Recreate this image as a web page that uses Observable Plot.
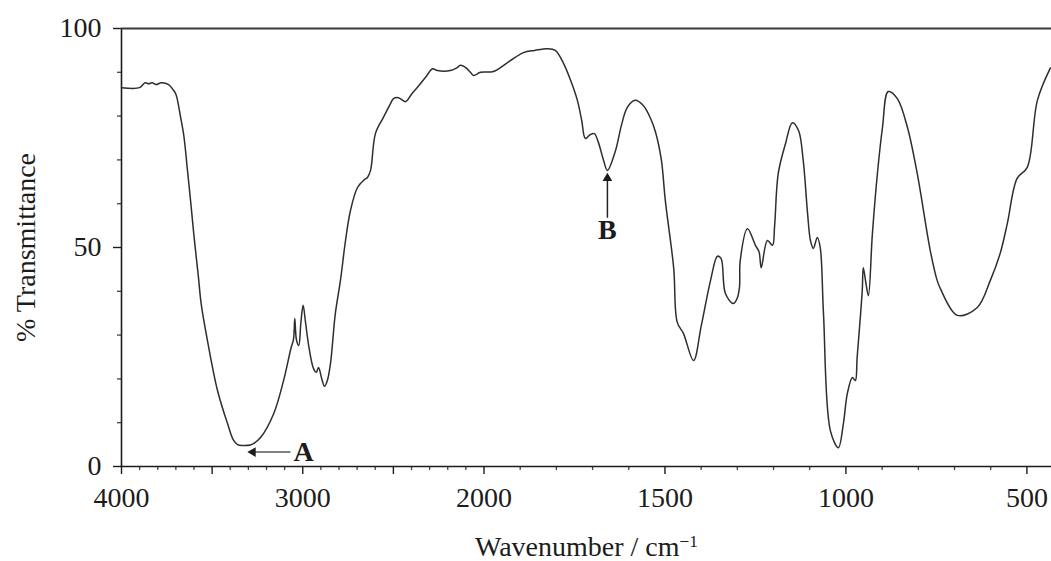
<!DOCTYPE html>
<html>
<head>
<meta charset="utf-8">
<script src="https://cdn.jsdelivr.net/npm/d3@7"></script>
<script src="https://cdn.jsdelivr.net/npm/@observablehq/plot@0.6"></script>
<style>
  html, body { margin: 0; padding: 0; background: #fff; }
  svg text { font-family: "Liberation Serif", "Times New Roman", serif; }
</style>
</head>
<body>
<div id="chart"></div>
<script>
// IR spectrum: wavenumber (cm^-1) and % transmittance
const wavenumber = [
  4000, 3900, 3870, 3850, 3830, 3810, 3780, 3740, 3715, 3702, 3693, 3675, 3656, 3637, 3619, 3601,
  3575, 3560, 3526, 3470, 3415, 3382, 3360, 3330, 3290, 3272, 3233, 3161, 3106, 3065, 3051, 3044,
  3035, 3022, 3010, 2998, 2985, 2965, 2941, 2925, 2913, 2895, 2880, 2865, 2847, 2820, 2792, 2764,
  2737, 2698, 2660, 2643, 2626, 2599, 2555, 2520, 2499, 2472, 2433, 2400, 2367, 2320, 2284, 2257,
  2185, 2150, 2130, 2102, 2075, 2058, 2019, 1974, 1930, 1891, 1860, 1825, 1803, 1780, 1760, 1742,
  1730, 1720, 1706, 1695, 1684, 1670, 1659, 1637, 1620, 1604, 1582, 1560, 1540, 1526, 1510, 1499,
  1476, 1466, 1449, 1421, 1400, 1374, 1355, 1345, 1333, 1311, 1300, 1294, 1292, 1272, 1250, 1240,
  1234, 1217, 1203, 1197, 1187, 1167, 1148, 1131, 1118, 1106, 1098, 1090, 1079, 1071, 1062, 1043,
  1021, 1007, 996, 982, 974, 969, 955, 952, 945, 938, 927, 913, 899, 883, 858, 830,
  803, 767, 748, 739, 692, 637, 601, 574, 554, 527, 499, 471, 435
];
const transmittance = [
  86.5, 86.5, 87.6, 87.4, 87.6, 87.2, 87.6, 87.2, 86.0, 85.2, 84.0, 80.0, 75.5, 68.0, 60.7, 53.0,
  43.0, 37.0, 28.8, 17.3, 9.8, 6.0, 5.0, 4.8, 4.9, 5.2, 6.6, 12.0, 19.6, 27.0, 29.0, 33.8,
  29.0, 27.6, 33.0, 36.8, 33.0, 27.0, 22.4, 21.5, 22.6, 20.0, 18.3, 19.5, 23.5, 35.0, 42.5, 51.6,
  58.4, 63.7, 65.5, 66.0, 67.6, 76.0, 79.7, 82.5, 84.0, 84.2, 83.3, 85.0, 86.6, 89.0, 90.8, 90.4,
  90.4, 91.0, 91.6, 91.1, 90.0, 89.3, 90.0, 90.2, 92.5, 94.5, 95.0, 95.4, 95.0, 92.0, 88.0, 83.6,
  79.0, 74.9, 75.8, 76.0, 74.0, 70.0, 67.6, 72.0, 78.0, 82.0, 83.6, 82.4, 79.5, 76.3, 70.0, 60.7,
  45.4, 32.9, 30.4, 24.2, 32.0, 42.5, 48.0, 47.5, 39.5, 37.2, 38.5, 41.0, 47.0, 54.3, 50.5, 49.0,
  45.4, 51.6, 50.5, 55.0, 66.9, 73.7, 78.5, 76.7, 69.9, 57.8, 51.6, 49.8, 52.3, 50.0, 34.9, 8.2,
  4.3, 9.8, 16.7, 20.3, 19.6, 24.9, 40.0, 45.4, 42.0, 39.0, 53.0, 66.9, 77.4, 85.6, 84.0, 77.4,
  66.9, 49.3, 42.5, 40.6, 34.5, 36.3, 42.5, 48.6, 55.5, 65.8, 68.3, 83.6, 91.0
];

// Axis ticks
const xMajorTicks = [4000, 3500, 3000, 2500, 2000, 1500, 1000, 500];
const xLabeledTicks = [4000, 3000, 2000, 1500, 1000, 500];
const xMinorTicks = d3.range(500, 4001, 100).filter(d => !xMajorTicks.includes(d));
const yMajorTicks = [0, 50, 100];
const yMinorTicks = [10, 20, 30, 40, 60, 70, 80, 90];

// Scale breakpoints: the axis doubles its scale below 2000 cm^-1
const xDomain = [4000, 2000, 432];
const xRange = [121, 483.5, 1051];
const yDomain = [0, 100];

// Peak annotations
const peakNames = ["A", "B"];
const peakLabelW = [2995, 1659];
const peakLabelT = [3.4, 53.9];
const arrowTailW = [3068, 1659];
const arrowTailT = [3.3, 56.8];
const arrowTipW = [3275, 1659];
const arrowTipT = [3.3, 65.8];
const arrowAngle = [-90, 0];
const arrowColor = ["#808080", "#222"];
const arrowWidth = [2, 1.5];

const spectrum = wavenumber.map((w, i) => ({w, t: transmittance[i]}));
const peaks = peakNames.map((name, i) => ({
  name, lw: peakLabelW[i], lt: peakLabelT[i],
  w1: arrowTailW[i], t1: arrowTailT[i], w2: arrowTipW[i], t2: arrowTipT[i],
  angle: arrowAngle[i], color: arrowColor[i], width: arrowWidth[i]
}));

const ink = "#1c1c1c";
const serif = "Liberation Serif";
const xTitleText = "Wavenumber / cm";

const chart = Plot.plot({
  width: 1051,
  height: 561,
  marginLeft: 121,
  marginRight: 0,
  marginTop: 28,
  marginBottom: 95,
  style: {fontFamily: serif, fontSize: "28px", color: ink, background: "#fff"},
  x: {type: "linear", domain: xDomain, range: xRange},
  y: {domain: yDomain},
  color: {type: "identity"},
  marks: [
    // tick marks
    Plot.axisX(xMinorTicks, {tickSize: 4, tickFormat: () => "", stroke: "#444", strokeWidth: 1.3, label: null}),
    Plot.axisX(xMajorTicks, {tickSize: 8, tickFormat: () => "", stroke: ink, strokeWidth: 1.4, label: null}),
    Plot.axisY(yMinorTicks, {tickSize: 4, tickFormat: () => "", stroke: "#444", strokeWidth: 1.3, label: null}),
    Plot.axisY(yMajorTicks, {tickSize: 8, tickFormat: () => "", stroke: ink, strokeWidth: 1.4, label: null}),
    // tick labels
    Plot.text(xLabeledTicks, {
      x: d => d, text: d => String(d), frameAnchor: "bottom", lineAnchor: "top", dy: 21,
      fontFamily: serif, fontSize: 28, fill: ink
    }),
    Plot.text(yMajorTicks, {
      y: d => d, text: d => String(d), frameAnchor: "left", textAnchor: "end", dx: -20,
      fontFamily: serif, fontSize: 28, fill: ink
    }),
    // frame: left and bottom axis lines, top border
    Plot.ruleX([xDomain[0]], {stroke: ink, strokeWidth: 1.6}),
    Plot.ruleY([yDomain[0]], {stroke: ink, strokeWidth: 1.6}),
    Plot.ruleY([yDomain[1]], {stroke: "#3a3a3a", strokeWidth: 1.8}),
    // spectrum
    Plot.line(spectrum, {x: "w", y: "t", stroke: "#2e2e2e", strokeWidth: 1.5, curve: "catmull-rom"}),
    // annotations
    Plot.link(peaks, {x1: "w1", y1: "t1", x2: "w2", y2: "t2", stroke: "color", strokeWidth: "width"}),
    Plot.dot(peaks, {x: "w2", y: "t2", symbol: "triangle", r: 3.6, fill: ink, stroke: null, rotate: "angle"}),
    Plot.text(peaks, {x: "lw", y: "lt", text: "name", fontFamily: serif, fontWeight: "bold", fontSize: 28, fill: ink}),
    // axis titles
    Plot.text(["% Transmittance"], {
      frameAnchor: "left", textAnchor: "middle", dx: -95, rotate: -90,
      fontFamily: serif, fontSize: 28, fill: ink
    }),
    Plot.text([xTitleText], {
      frameAnchor: "bottom", textAnchor: "middle", dy: 89, lineAnchor: "bottom",
      fontFamily: serif, fontSize: 28, fill: ink
    })
  ]
});

// superscript exponent on the unit
d3.select(chart).selectAll("text")
  .filter(function() { return this.textContent === xTitleText; })
  .append("tspan")
  .attr("dy", "-0.5em")
  .attr("font-size", "0.62em")
  .text("\u22121");

document.getElementById("chart").append(chart);
</script>
</body>
</html>
